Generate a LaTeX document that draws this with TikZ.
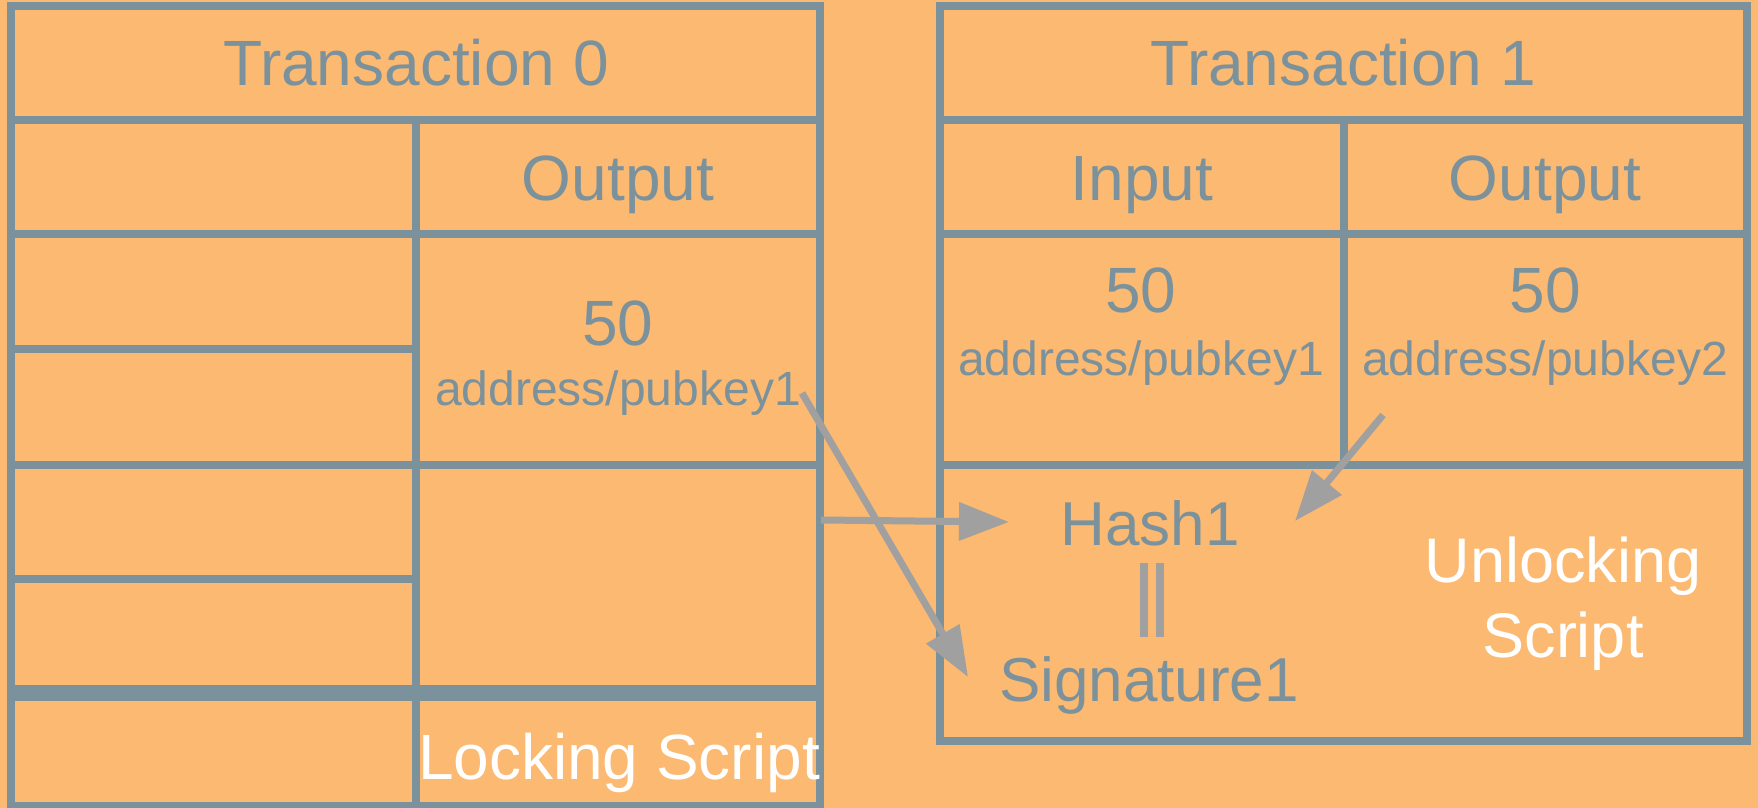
\documentclass[tikz,border=0pt]{standalone}
\usepackage{fontspec}
\setmainfont{Liberation Sans}
\usetikzlibrary{arrows.meta}
\definecolor{bgc}{RGB}{251,185,113}
\definecolor{lnc}{RGB}{123,146,157}
\definecolor{arc}{RGB}{160,160,160}
\begin{document}
\begin{tikzpicture}[x=0.5pt,y=-0.5pt,
  grid/.style={draw=lnc,line width=4pt},
  thickgrid/.style={draw=lnc,line width=8pt},
  bigtxt/.style={font=\fontsize{32}{38}\selectfont,text=lnc,inner sep=0pt,anchor=base},
  midtxt/.style={font=\fontsize{31}{37}\selectfont,text=lnc,inner sep=0pt,anchor=base},
  smalltxt/.style={font=\fontsize{24}{29}\selectfont,text=lnc,inner sep=0pt,anchor=base},
  whitetxt/.style={font=\fontsize{31.5}{38}\selectfont,text=white,inner sep=0pt,anchor=base},
  eqbar/.style={draw=arc,line width=4pt},
  arr/.style={draw=arc,line width=3.5pt,-{Triangle[length=25pt,width=18.5pt]}}]
\fill[bgc] (0,0) rectangle (1758,808);
\useasboundingbox (0,0) rectangle (1758,808);
% ---- Transaction 0 table
\draw[grid] (11,6) rectangle (820,806);
\draw[grid] (11,120) -- (820,120);
\draw[grid] (416,120) -- (416,806);
\draw[grid] (11,234) -- (820,234);
\draw[grid] (11,349) -- (416,349);
\draw[grid] (11,465) -- (820,465);
\draw[grid] (11,579) -- (416,579);
\draw[thickgrid] (11,693) -- (820,693);
% ---- Transaction 1 table
\draw[grid] (940,6) rectangle (1747,741);
\draw[grid] (940,120) -- (1747,120);
\draw[grid] (1344,120) -- (1344,465);
\draw[grid] (940,234) -- (1747,234);
\draw[grid] (940,465) -- (1747,465);
% ---- texts, table 0
\node[bigtxt] (t0) at (416,86) {Transaction 0};
\node[bigtxt] (out0) at (618,200) {Output};
\node[bigtxt] (v0) at (618,345) {50};
\node[smalltxt] (addr0) at (618,405) {address/pubkey1};
\node[font=\fontsize{32}{38}\selectfont,text=white,inner sep=0pt,anchor=base] (lock) at (619,779) {Locking Script};
% ---- texts, table 1
\node[bigtxt] (t1) at (1343,86) {Transaction 1};
\node[bigtxt] (in1) at (1142,200) {Input};
\node[bigtxt] (out1) at (1545,200) {Output};
\node[bigtxt] (v1) at (1141,313) {50};
\node[smalltxt] (addr1) at (1141,375) {address/pubkey1};
\node[bigtxt] (v2) at (1545,313) {50};
\node[smalltxt] (addr2) at (1545,375) {address/pubkey2};
\node[midtxt] (hash) at (1150,545) {Hash1};
\node[midtxt] (sig) at (1149,701) {Signature1};
\draw[eqbar] (1144,563) -- (1144,637);
\draw[eqbar] (1160,563) -- (1160,637);
\node[whitetxt] (unl1) at (1563,582) {Unlocking};
\node[whitetxt] (unl2) at (1563,657) {Script};
% ---- arrows
\coordinate (a1s) at (802,393);
\coordinate (a1e) at (968,677);
\coordinate (a2s) at (821,520);
\coordinate (a2e) at (1009,522);
\coordinate (a3s) at (1383,415);
\coordinate (a3e) at (1295,521);
\draw[arr] (a1s) -- (a1e);
\draw[arr] (a2s) -- (a2e);
\draw[arr] (a3s) -- (a3e);
\end{tikzpicture}
\end{document}
